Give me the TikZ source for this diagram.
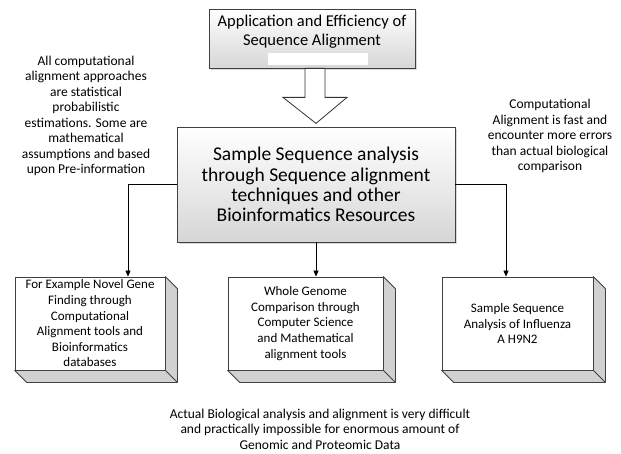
\documentclass[tikz,border=0pt]{standalone}
\usepackage{fontspec}
\setmainfont{Carlito}
\usetikzlibrary{arrows.meta,calc,shadows}
\begin{document}
\begin{tikzpicture}[x=1pt,y=-1pt,
  every node/.style={inner sep=0pt, align=center},
  panel/.style={draw=black!75, line width=0.8pt, top color=white, bottom color=black!16,
    drop shadow={opacity=0.3, shadow xshift=2pt, shadow yshift=-2pt}},
  solid box/.style={draw=black!75, line width=0.8pt, fill=white, minimum height=93pt},
  side/.style={fill=black!18, draw=black!75, line width=0.8pt, line join=round},
  conn/.style={draw=black, line width=0.8pt, -{Triangle[length=6pt,width=5pt]}},
  hollow/.style={draw=black!80, line width=0.8pt, fill=white},
  small/.style={font=\fontsize{13}{15.6}\selectfont},
  note/.style={font=\fontsize{13.5}{15.5}\selectfont}]

% canvas
\fill[white] (0,0) rectangle (621,454);
\useasboundingbox (0,0) rectangle (621,454);

% title box with its blank strip
\node[panel, minimum width=206pt, minimum height=59pt] (top) at (312,38.5) {};
\fill[white] (268,53) rectangle (368,65);
\node[font=\fontsize{16.5}{19}\selectfont] (toptxt) at (312,31.5)
  {Application and Efficiency of\\Sequence Alignment};

% hollow block arrow
\draw[hollow] ($(top.south)+(-7,0)$) -- ($(top.south)+(13,0)$) -- ($(top.south)+(13,29)$)
  -- ($(top.south)+(35,29)$) -- ($(top.south)+(4,55)$) -- ($(top.south)+(-29,29)$)
  -- ($(top.south)+(-7,29)$) -- cycle;

% central box
\node[panel, minimum width=278pt, minimum height=115pt,
  font=\fontsize{19.5}{20.2}\selectfont] (main) at (316,184.5)
  {Sample Sequence analysis\\through Sequence alignment\\techniques and other\\Bioinformatics Resources};

% three raised boxes
\node[solid box, minimum width=150pt, small] (lbox) at (90,323.5)
  {For Example Novel Gene\\Finding through\\Computational\\Alignment tools and\\Bioinformatics\\databases};
\node[solid box, minimum width=155pt, small] (mbox) at (305.5,323.5)
  {Whole Genome\\Comparison through\\Computer Science\\and Mathematical\\alignment tools};
\node[solid box, minimum width=151pt, small] (rbox) at (517.5,323.5)
  {Sample Sequence\\Analysis of Influenza\\A H9N2};

\foreach \b in {lbox,mbox,rbox}{
  \draw[side] (\b.north east) -- ($(\b.north east)+(12,12)$) -- ($(\b.south east)+(12,12)$)
    -- ($(\b.south west)+(12,12)$) -- (\b.south west) -- (\b.south east) -- cycle;
  \draw[black!75, line width=0.8pt] (\b.south east) -- ($(\b.south east)+(12,12)$);
}

% connectors
\draw[conn] (main.west) -| ([xshift=38pt]lbox.north);
\draw[conn] (main.south) -- (main.south |- mbox.north);
\draw[conn] (main.east) -| ([xshift=-11.5pt]rbox.north);

% side notes
\node[note] (lnote) at (86,116)
  {All computational\\alignment approaches\\are statistical\\probabilistic\\estimations. Some are\\mathematical\\assumptions and based\\upon Pre-information};
\node[note] (rnote) at (550,136)
  {Computational\\Alignment is fast and\\encounter more errors\\than actual biological\\comparison};
\node[note] (bnote) at (320,429)
  {Actual Biological analysis and alignment is very difficult\\and practically impossible for enormous amount of\\Genomic and Proteomic Data};
\end{tikzpicture}
\end{document}
